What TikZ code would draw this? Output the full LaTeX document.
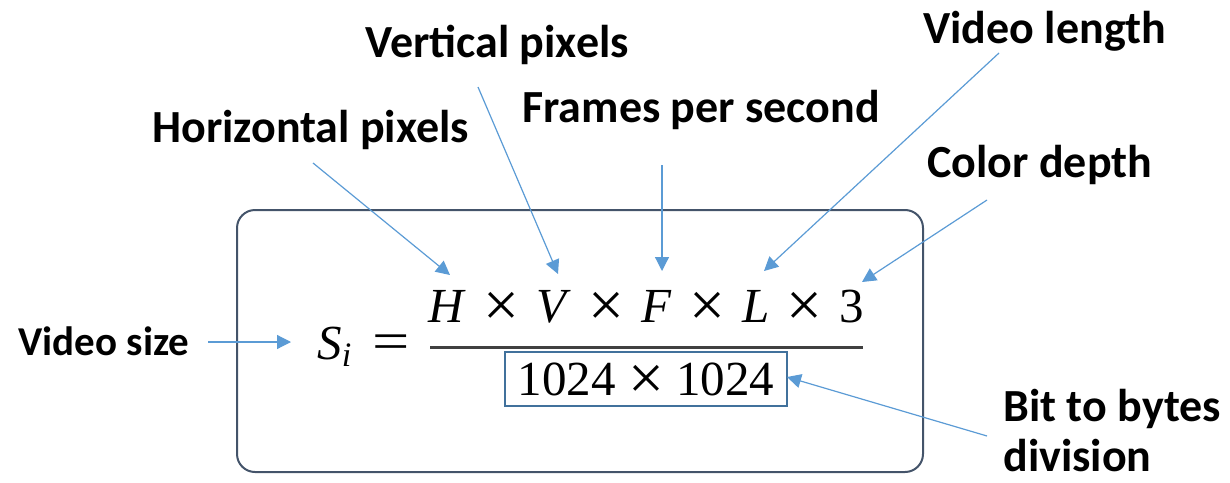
\documentclass[tikz,border=0pt]{standalone}
\usepackage{fontspec}
\usepackage{graphicx}
\setmainfont{Liberation Serif}
\newfontfamily\lblfont{Carlito}
\usetikzlibrary{arrows.meta}
\definecolor{arrowblue}{RGB}{91,155,213}
\definecolor{frameslate}{RGB}{68,84,106}
\definecolor{denomblue}{RGB}{65,113,156}
\definecolor{bargray}{RGB}{64,64,64}
\newcommand\bigtimes{\raisebox{-0.09em}{\scalebox{1.3}{×}}}
\newcommand\timesgap{\hspace{0.35em}\bigtimes\hspace{0.35em}}

\begin{document}
\begin{tikzpicture}[x=0.5pt,y=-0.5pt,
  lbl/.style={font=\lblfont\bfseries\fontsize{23}{27}\selectfont,anchor=base west,inner sep=0pt},
  fml/.style={font=\fontsize{24.5}{29}\selectfont,inner sep=0pt},
  pointer/.style={-{Triangle[length=7pt,width=7pt]},arrowblue,line width=0.6pt}]

\useasboundingbox (0,0) rectangle (1230,482);

%% ── frame round the formula ─────────────────────────────────────────────
\draw[frameslate,line width=1pt,rounded corners=9pt] (237,210) rectangle (923,472);

%% ── formula ─────────────────────────────────────────────────────────────
\node[fml,anchor=base west] (si) at (317,359) {\textit{S}\textsubscript{\textit{i}}};
\node[fml,anchor=base west] (eq) at (372,359) {\scalebox{1.35}[1.1]{=}};
\node[fml,anchor=base] (num) at (646.5,322)
  {\textit{H}\timesgap\textit{V}\timesgap\textit{F}\timesgap\textit{L}\timesgap 3};
\draw[bargray,line width=1.5pt] (430,347) -- (863,347);
\node[fml,anchor=base,draw=denomblue,line width=1pt,inner xsep=6.5pt,inner ysep=5pt,
  text height=16.5pt,text depth=0.5pt] (den) at (646,395)
  {1024\hspace{0.25em}\bigtimes\hspace{0.25em}1024};

%% ── labels ──────────────────────────────────────────────────────────────
\node[lbl] (hpix) at (152,142) {Horizontal pixels};
\node[lbl] (vpix) at (365,57) {Vertical pixels};
\node[lbl] (fps) at (522,122) {Frames per second};
\node[lbl] (vlen) at (923,43) {Video length};
\node[lbl] (cdep) at (927,177) {Color depth};
\node[lbl,font=\lblfont\bfseries\fontsize{20.5}{24}\selectfont] (vsize) at (18,355) {Video size};
\node[lbl] (bitb) at (1003,421) {Bit to bytes};
\node[lbl] (divn) at (1003,471) {division};

%% ── pointer ends ────────────────────────────────────────────────────────
\coordinate (hpix-s) at (313,163);  \coordinate (hpix-e) at (450,275);
\coordinate (vpix-s) at (478,87);   \coordinate (vpix-e) at (558,274);
\coordinate (fps-s) at (662,165);   \coordinate (fps-e) at (662,271);
\coordinate (vlen-s) at (999,53);   \coordinate (vlen-e) at (764,271);
\coordinate (cdep-s) at (987,200);  \coordinate (cdep-e) at (862,282);
\coordinate (vsize-s) at (208,342); \coordinate (vsize-e) at (291,342);
\coordinate (bitb-s) at (987,436);  \coordinate (bitb-e) at (787,377);

%% ── pointers ────────────────────────────────────────────────────────────
\draw[pointer] (hpix-s) -- (hpix-e);
\draw[pointer] (vpix-s) -- (vpix-e);
\draw[pointer] (fps-s) -- (fps-e);
\draw[pointer] (vlen-s) -- (vlen-e);
\draw[pointer] (cdep-s) -- (cdep-e);
\draw[pointer] (vsize-s) -- (vsize-e);
\draw[pointer] (bitb-s) -- (bitb-e);

\end{tikzpicture}
\end{document}
